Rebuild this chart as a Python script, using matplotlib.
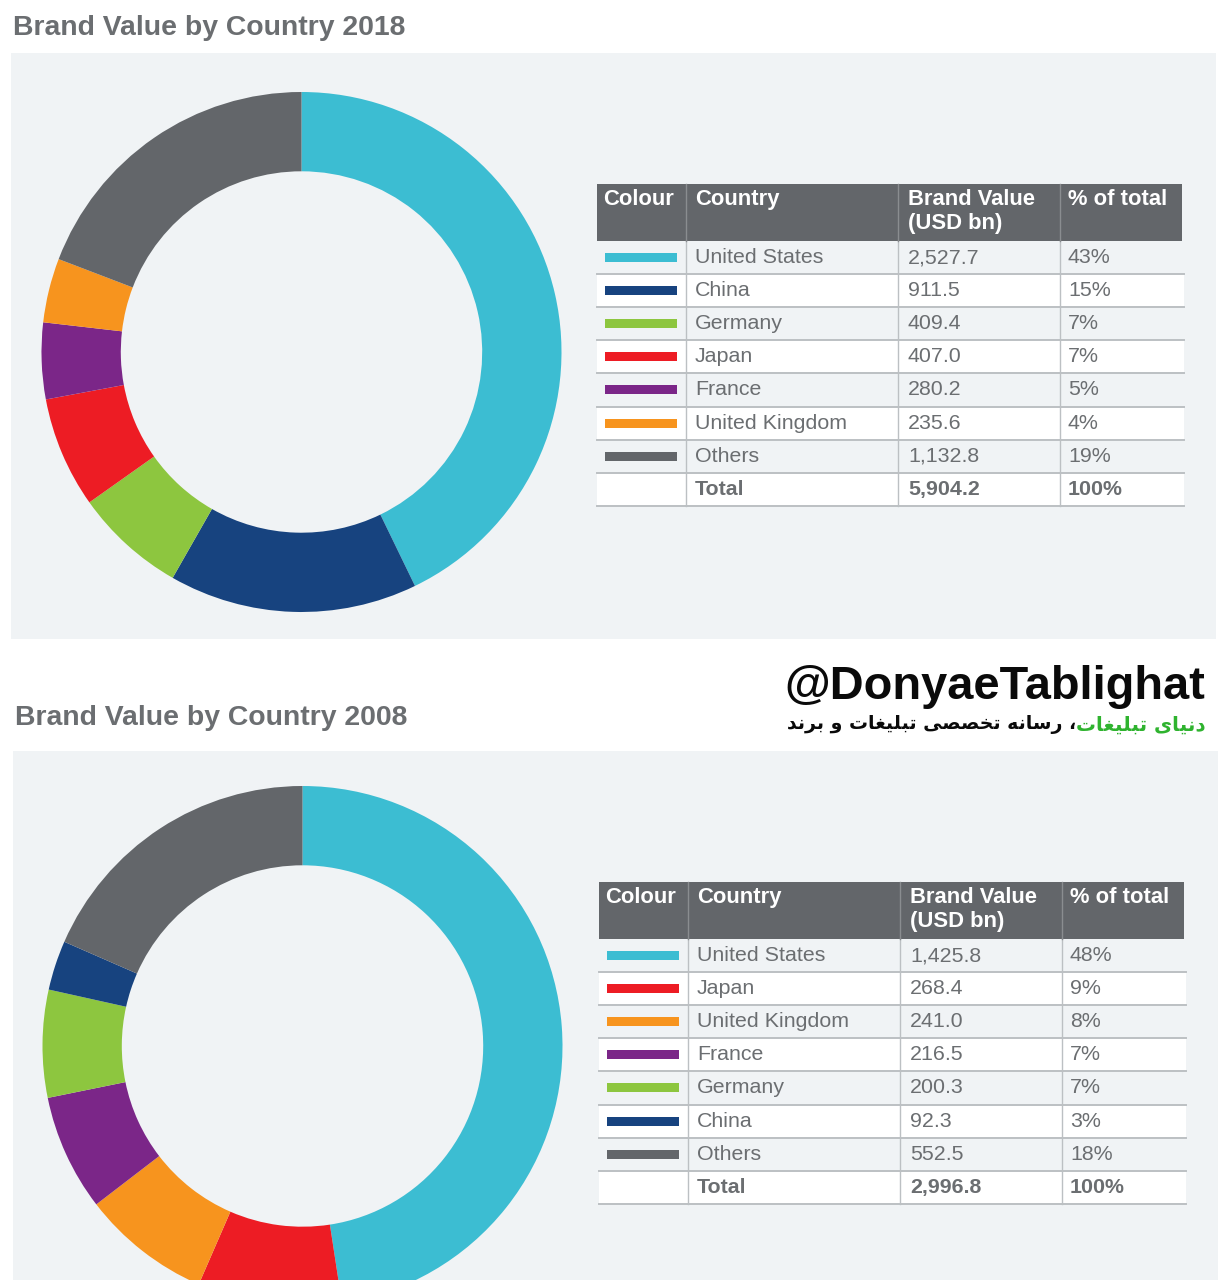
import matplotlib
matplotlib.use('Agg')
import matplotlib.pyplot as plt
from matplotlib.patches import Rectangle

# table and donut data
countries_2018 = ['United States', 'China', 'Germany', 'Japan', 'France', 'United Kingdom', 'Others']
values_2018 = [2527.7, 911.5, 409.4, 407.0, 280.2, 235.6, 1132.8]
pct_2018 = [43, 15, 7, 7, 5, 4, 19]
total_2018 = 5904.2

countries_2008 = ['United States', 'Japan', 'United Kingdom', 'France', 'Germany', 'China', 'Others']
values_2008 = [1425.8, 268.4, 241.0, 216.5, 200.3, 92.3, 552.5]
pct_2008 = [48, 9, 8, 7, 7, 3, 18]
total_2008 = 2996.8

headers = ['Colour', 'Country', 'Brand Value\n(USD bn)', '% of total']

colours = {'United States': '#3cbdd2', 'China': '#17437f', 'Germany': '#8dc63f',
           'Japan': '#ed1c24', 'France': '#7b2688', 'United Kingdom': '#f7941e',
           'Others': '#63666a'}

W, H = 1230, 1280
PANEL = '#f0f3f5'
GREY = '#6b6e71'
RULE = '#bcc0c3'
FONT = 'Liberation Sans'
BODY = 15.4

# forms: isolated, final, initial, medial
FORMS = {'د': 'ﺩﺪ', 'ا': 'ﺍﺎ', 'ر': 'ﺭﺮ', 'و': 'ﻭﻮ',
         'ن': 'ﻥﻦﻧﻨ', 'ی': 'ﯼﯽﯾﯿ', 'ت': 'ﺕﺖﺗﺘ', 'ب': 'ﺏﺐﺑﺒ',
         'ل': 'ﻝﻞﻟﻠ', 'غ': 'ﻍﻎﻏﻐ', 'س': 'ﺱﺲﺳﺴ', 'ه': 'ﻩﻪﻫﻬ',
         'خ': 'ﺥﺦﺧﺨ', 'ص': 'ﺹﺺﺻﺼ'}

def shape(s):
    # matplotlib does no arabic shaping, so pick the forms by hand
    out = []
    for i, c in enumerate(s):
        if c not in FORMS:
            out.append(c)
            continue
        prev = s[i - 1] if i > 0 else ' '
        nxt = s[i + 1] if i < len(s) - 1 else ' '
        joins_prev = prev in FORMS and len(FORMS[prev]) == 4
        joins_next = nxt in FORMS and len(FORMS[c]) == 4
        if joins_prev and joins_next:
            out.append(FORMS[c][3])
        elif joins_next:
            out.append(FORMS[c][2])
        elif joins_prev:
            out.append(FORMS[c][1])
        else:
            out.append(FORMS[c][0])
    return ''.join(reversed(out))

def donut(fig, cx, cy, r, names, vals):
    ax = fig.add_axes([(cx - r) / W, 1 - (cy + r) / H, 2 * r / W, 2 * r / H])
    ax.pie(vals, colors=[colours[n] for n in names], startangle=90, counterclock=False,
           radius=1, wedgeprops={'width': 0.305, 'linewidth': 0})
    ax.set_xlim(-1, 1)
    ax.set_ylim(-1, 1)
    ax.axis('off')

def table(ax, x0, y0, names, vals, pcts, total):
    cols = [x0, x0 + 89, x0 + 301, x0 + 463, x0 + 585]
    tx = [x0 + 6, x0 + 98, x0 + 311, x0 + 471]
    ys = [y0 + 57 + 33.1 * i for i in range(9)]

    ax.add_patch(Rectangle((x0, y0), cols[-1] - x0, 57, fc='#63666a', ec='none'))
    for t, x in zip(headers, tx):
        ax.text(x, y0 + 5, t, color='white', fontsize=15.8, fontweight='bold', family=FONT,
                va='top', ha='left', linespacing=1.2)

    for i in range(8):
        if i % 2 == 1:
            ax.add_patch(Rectangle((x0, ys[i]), cols[-1] - x0 + 2, ys[i + 1] - ys[i], fc='white', ec='none'))
        ax.plot([x0, cols[-1] + 2], [ys[i + 1], ys[i + 1]], color=RULE, lw=1.4)
    for x in cols[1:4]:
        ax.plot([x, x], [y0 + 57, ys[-1]], color=RULE, lw=1.0)
        ax.plot([x, x], [y0, y0 + 57], color='#8a8d90', lw=1.0)

    for i, n in enumerate(names):
        mid = (ys[i] + ys[i + 1]) / 2
        ax.add_patch(Rectangle((x0 + 8, mid - 4.5), 72, 9, fc=colours[n], ec='none'))
        ax.text(tx[1], mid, n, color=GREY, fontsize=BODY, family=FONT, va='center')
        ax.text(tx[2], mid, f'{vals[i]:,.1f}', color=GREY, fontsize=BODY, family=FONT, va='center')
        ax.text(tx[3], mid, f'{pcts[i]}%', color=GREY, fontsize=BODY, family=FONT, va='center')

    mid = (ys[7] + ys[8]) / 2
    ax.text(tx[1], mid, 'Total', color=GREY, fontsize=BODY, fontweight='bold', family=FONT, va='center')
    ax.text(tx[2], mid, f'{total:,.1f}', color=GREY, fontsize=BODY, fontweight='bold', family=FONT, va='center')
    ax.text(tx[3], mid, '100%', color=GREY, fontsize=BODY, fontweight='bold', family=FONT, va='center')

fig = plt.figure(figsize=(W / 100, H / 100), dpi=100, facecolor='white')
ax = fig.add_axes([0, 0, 1, 1])
ax.set_xlim(0, W)
ax.set_ylim(H, 0)
ax.axis('off')

ax.add_patch(Rectangle((11, 53), 1205, 586, fc=PANEL, ec='none'))
ax.add_patch(Rectangle((13, 751), 1205, 529, fc=PANEL, ec='none'))

ax.text(13, 28, 'Brand Value by Country 2018', color=GREY, fontsize=20.4, fontweight='bold', family=FONT, va='center')
ax.text(15, 718, 'Brand Value by Country 2008', color=GREY, fontsize=20.4, fontweight='bold', family=FONT, va='center')

table(ax, 597, 184, countries_2018, values_2018, pct_2018, total_2018)
table(ax, 599, 882, countries_2008, values_2008, pct_2008, total_2008)

ax.text(1205, 699, '@DonyaeTablighat', color='#0a0a0a', fontsize=33.8, fontweight='bold', family=FONT,
        ha='right', va='baseline')
ax.text(1206, 725, shape('دنیای تبلیغات'), color='#2fb32f', fontsize=14.3, fontweight='bold',
        family='DejaVu Sans', ha='right', va='center')
ax.text(1076, 725, shape('، رسانه تخصصی تبلیغات و برند'), color='#0a0a0a', fontsize=13.6, fontweight='bold',
        family='DejaVu Sans', ha='right', va='center')

donut(fig, 301.5, 352, 260, countries_2018, values_2018)
donut(fig, 302.5, 1046, 260, countries_2008, values_2008)

fig.savefig('out.png', dpi=100)
